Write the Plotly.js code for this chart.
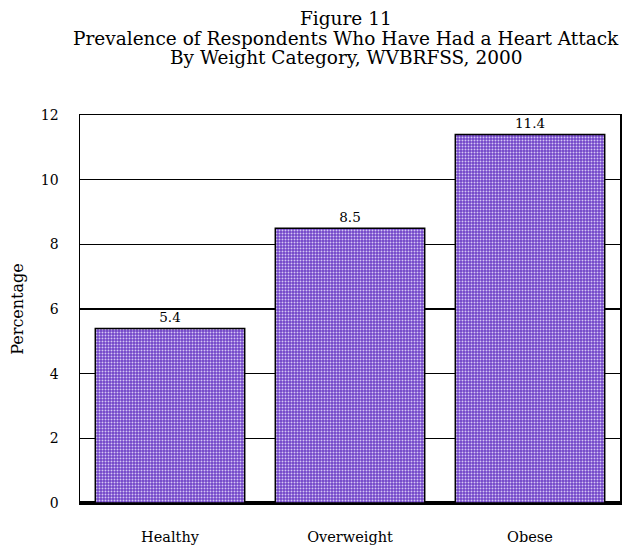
<!DOCTYPE html>
<html>
<head>
<meta charset="utf-8">
<script src="https://cdn.plot.ly/plotly-3.0.1.min.js"></script>
<style>html,body{margin:0;padding:0;background:#fff;}#chart{width:632px;height:546px;}</style>
</head>
<body>
<div id="chart"></div>
<script>
const categories = ['Healthy', 'Overweight', 'Obese'];
const percentages = [5.4, 8.5, 11.4];
const valueLabels = ['5.4', '8.5', '11.4'];
const yTickValues = [0, 2, 4, 6, 8, 10, 12];
const titleLines = ['Figure 11', 'Prevalence of Respondents Who Have Had a Heart Attack', 'By Weight Category, WVBRFSS, 2000'];

const serif = 'DejaVu Serif, Liberation Serif, serif';

const trace = {
  type: 'bar',
  x: categories,
  y: percentages,
  text: valueLabels,
  textposition: 'outside',
  textfont: {family: serif, size: 13.5, color: '#000'},
  cliponaxis: false,
  width: 0.83,
  marker: {
    color: '#7043c8',
    pattern: {shape: '.', fgcolor: '#d4c6f3', bgcolor: '#7043c8', size: 3, solidity: 0.33},
    line: {color: '#000', width: 1.5}
  },
  hoverinfo: 'x+y'
};

const titleY = [18, 38, 57];

const layout = {
  width: 632,
  height: 546,
  margin: {l: 80, r: 12, t: 115, b: 43},
  paper_bgcolor: '#fff',
  plot_bgcolor: '#fff',
  showlegend: false,
  annotations: titleLines.map((line, i) => ({
    text: line,
    xref: 'paper',
    yref: 'paper',
    x: 0.493,
    xanchor: 'center',
    y: 1 + (115 - titleY[i]) / 388,
    yanchor: 'middle',
    showarrow: false,
    font: {family: serif, size: 18.5, color: '#000'}
  })),
  xaxis: {
    type: 'category',
    showline: true,
    mirror: true,
    linecolor: '#000',
    linewidth: 1.5,
    ticks: '',
    ticklabelstandoff: 20,
    tickfont: {family: serif, size: 14.5, color: '#000'}
  },
  yaxis: {
    range: [0, 12],
    tickvals: yTickValues,
    ticktext: yTickValues.map(String),
    showgrid: true,
    gridcolor: '#000',
    gridwidth: 1.5,
    showline: true,
    mirror: true,
    linecolor: '#000',
    linewidth: 1.5,
    zeroline: true,
    zerolinecolor: '#000',
    zerolinewidth: 3.5,
    ticks: '',
    ticklabelstandoff: 17,
    tickfont: {family: serif, size: 14, color: '#000'},
    title: {text: 'Percentage', font: {family: serif, size: 16, color: '#000'}, standoff: 13}
  },
  bargap: 0.17
};

Plotly.newPlot('chart', [trace], layout, {displayModeBar: false, staticPlot: true});
</script>
</body>
</html>
